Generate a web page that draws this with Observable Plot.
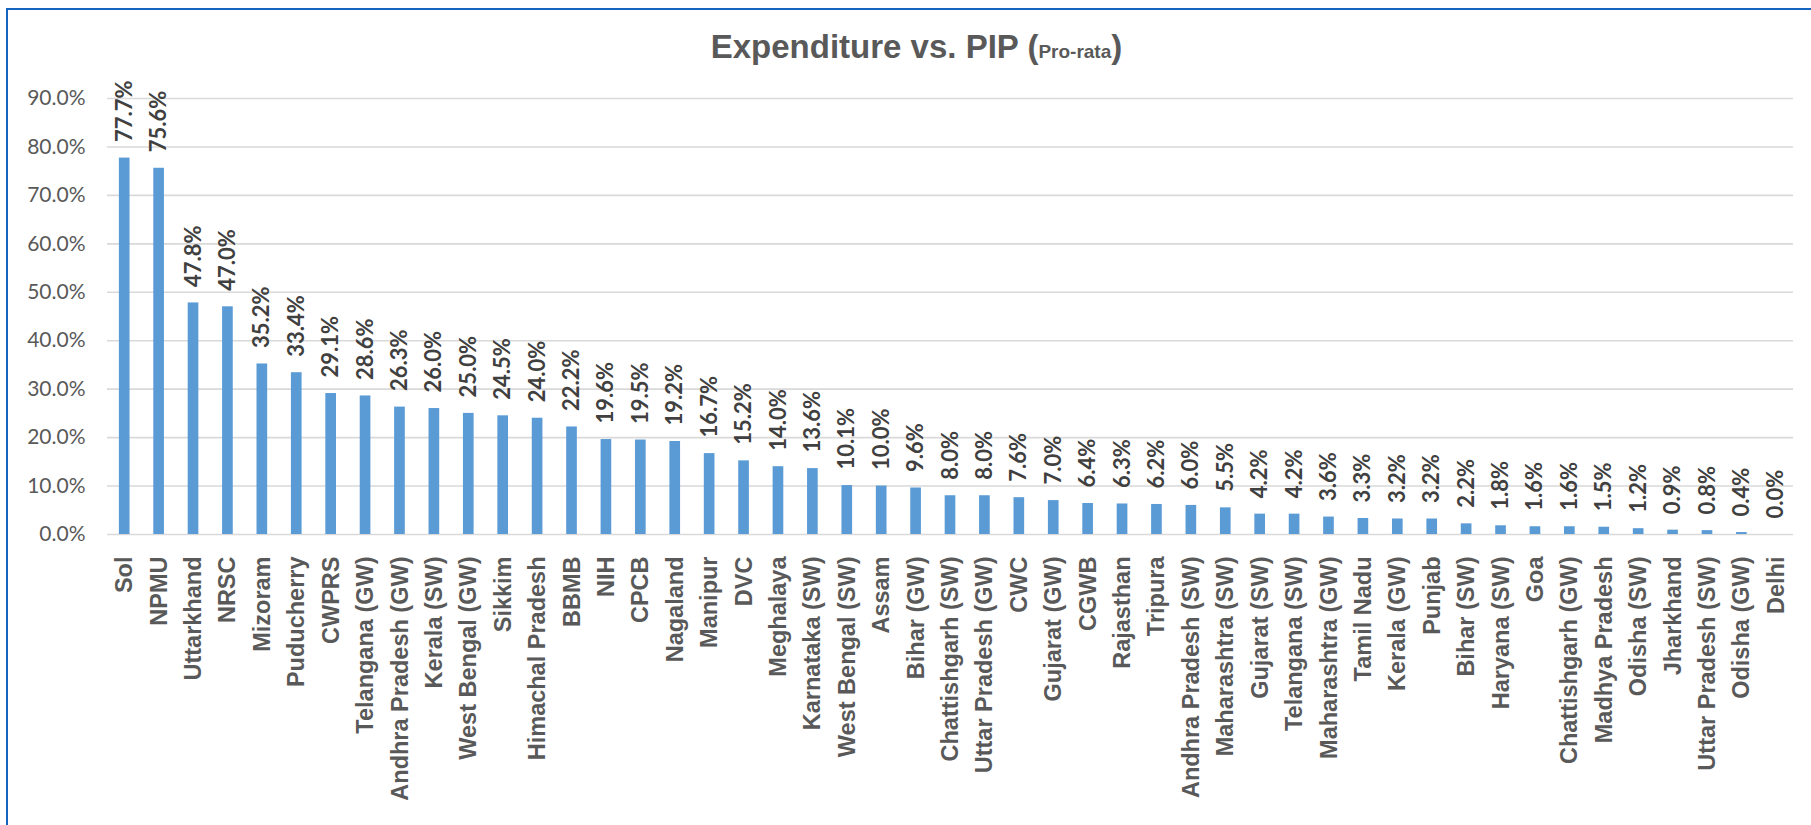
<!DOCTYPE html>
<html>
<head>
<meta charset="utf-8">
<script src="https://cdn.jsdelivr.net/npm/d3@7"></script>
<script src="https://cdn.jsdelivr.net/npm/@observablehq/plot@0.6"></script>
<style>
  html, body { margin: 0; padding: 0; background: #fff; }
  #wrap { position: relative; width: 1811px; height: 825px; overflow: hidden; background: #fff; }
  #frame { position: absolute; left: 6px; top: 8px; width: 1830px; height: 900px; border: 2.5px solid #1565c0; box-sizing: border-box; }
  #title { position: absolute; left: 11px; top: 27px; width: 1811px; text-align: center; font-family: "Liberation Sans", Arial, sans-serif; font-weight: bold; font-size: 33px; color: #595959; line-height: 40px; }
  #title .small { font-size: 19px; }
  #chart { position: absolute; left: 0; top: 0; }
</style>
</head>
<body>
<div id="wrap">
  <div id="frame"></div>
  <div id="chart"></div>
  <div id="title">Expenditure vs. PIP (<span class="small">Pro-rata</span>)</div>
</div>
<script>
const categories = ["Sol","NPMU","Uttarkhand","NRSC","Mizoram","Puducherry","CWPRS","Telangana (GW)","Andhra Pradesh (GW)","Kerala (SW)","West Bengal (GW)","Sikkim","Himachal Pradesh","BBMB","NIH","CPCB","Nagaland","Manipur","DVC","Meghalaya","Karnataka (SW)","West Bengal (SW)","Assam","Bihar (GW)","Chattishgarh (SW)","Uttar Pradesh (GW)","CWC","Gujarat (GW)","CGWB","Rajasthan","Tripura","Andhra Pradesh (SW)","Maharashtra (SW)","Gujarat (SW)","Telangana (SW)","Maharashtra (GW)","Tamil Nadu","Kerala (GW)","Punjab","Bihar (SW)","Haryana (SW)","Goa","Chattishgarh (GW)","Madhya Pradesh","Odisha (SW)","Jharkhand","Uttar Pradesh (SW)","Odisha (GW)","Delhi"];
const values = [77.7,75.6,47.8,47.0,35.2,33.4,29.1,28.6,26.3,26.0,25.0,24.5,24.0,22.2,19.6,19.5,19.2,16.7,15.2,14.0,13.6,10.1,10.0,9.6,8.0,8.0,7.6,7.0,6.4,6.3,6.2,6.0,5.5,4.2,4.2,3.6,3.3,3.2,3.2,2.2,1.8,1.6,1.6,1.5,1.2,0.9,0.8,0.4,0.0];
const yTicks = [0,10,20,30,40,50,60,70,80,90];

const data = categories.map((c, i) => ({name: c, value: values[i]}));
const pct = d => d.toFixed(1) + "%";

const chart = Plot.plot({
  width: 1811,
  height: 825,
  marginLeft: 107,
  marginRight: 18,
  marginTop: 98,
  marginBottom: 291,
  style: {background: "transparent", overflow: "visible"},
  x: {domain: categories, paddingInner: 0.69, paddingOuter: 0.345, round: false, label: null},
  y: {domain: [0, 90], label: null},
  marks: [
    Plot.ruleY(yTicks, {stroke: "#d9d9d9", strokeWidth: 1.6}),
    Plot.barY(data, {x: "name", y: "value", fill: "#5b9bd5"}),
    Plot.text(data, {x: "name", y: "value", text: d => pct(d.value), rotate: -90, textAnchor: "start", dy: -16,
      fill: "#404040", fontWeight: "bold", fontSize: 22, fontFamily: "Lato, 'Liberation Sans', sans-serif"}),
    Plot.axisY({ticks: yTicks, tickFormat: pct, tickSize: 0, tickPadding: 22, fontSize: 21,
      fontFamily: "Lato, 'Liberation Sans', sans-serif", color: "#595959", label: null}),
    Plot.axisX({tickRotate: -90, tickSize: 0, tickPadding: 22, fontSize: 23.5, fontWeight: "bold",
      fontFamily: "'Liberation Sans', Arial, sans-serif", color: "#595959", label: null})
  ]
});
document.getElementById("chart").appendChild(chart);
</script>
</body>
</html>
